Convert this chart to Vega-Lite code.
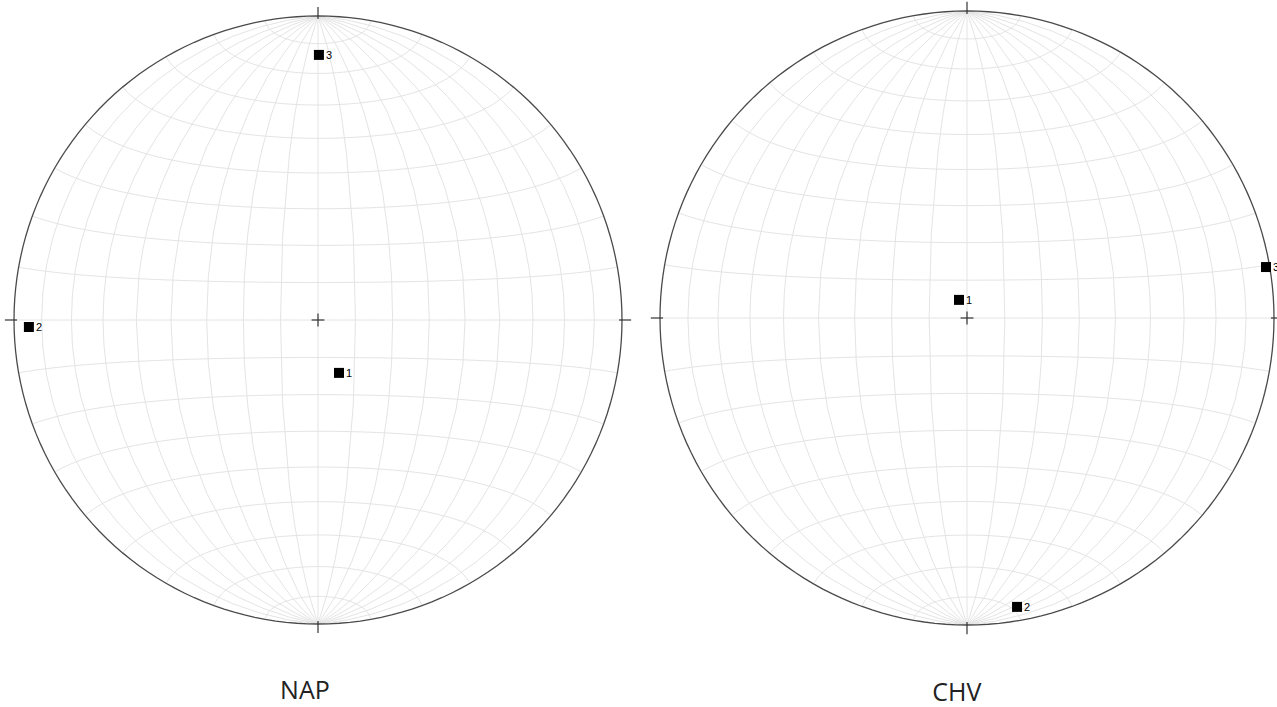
{
  "$schema": "https://vega.github.io/schema/vega-lite/v6.json",
  "padding": 0,
  "spacing": 0,
  "bounds": "flush",
  "config": {"view": {"stroke": null}},
  "datasets": {
    "ticks": [
      {"x": 0, "y": 0.99, "x2": 0, "y2": 1.03},
      {"x": 0, "y": -0.99, "x2": 0, "y2": -1.03},
      {"x": -0.99, "y": 0, "x2": -1.03, "y2": 0},
      {"x": 0.99, "y": 0, "x2": 1.03, "y2": 0},
      {"x": -0.021, "y": 0, "x2": 0.021, "y2": 0},
      {"x": 0, "y": -0.021, "x2": 0, "y2": 0.021}
    ],
    "nap": [
      {"id": "1", "x": 0.069, "y": -0.174},
      {"id": "2", "x": -0.951, "y": -0.023},
      {"id": "3", "x": 0.003, "y": 0.872}
    ],
    "chv": [
      {"id": "1", "x": -0.026, "y": 0.059},
      {"id": "2", "x": 0.163, "y": -0.941},
      {"id": "3", "x": 0.974, "y": 0.166}
    ]
  },
  "hconcat": [
    {
      "width": 640,
      "height": 707,
      "projection": {"type": "azimuthalEqualArea", "clipAngle": 90, "extent": [[14, 16], [622, 624]]},
      "layer": [
        {
          "data": {"graticule": {"step": [10, 10], "extentMinor": [[-180, -90], [180, 90]]}},
          "mark": {"type": "geoshape", "filled": false, "stroke": "#e4e4e4", "strokeWidth": 1}
        },
        {
          "data": {"sphere": true},
          "mark": {"type": "geoshape", "filled": false, "stroke": "#4a4a4a", "strokeWidth": 1.3}
        },
        {
          "data": {"name": "ticks"},
          "mark": {"type": "rule", "color": "#333333", "strokeWidth": 1.2},
          "encoding": {
            "x": {"field": "x", "type": "quantitative", "scale": {"domain": [-1.04605, 1.05921], "nice": false, "zero": false}, "axis": null},
            "y": {"field": "y", "type": "quantitative", "scale": {"domain": [-1.27303, 1.05263], "nice": false, "zero": false}, "axis": null},
            "x2": {"field": "x2"},
            "y2": {"field": "y2"}
          }
        },
        {
          "data": {"name": "nap"},
          "mark": {"type": "point", "shape": "square", "filled": true, "color": "#000000", "size": 100, "opacity": 1, "strokeWidth": 0},
          "encoding": {
            "x": {"field": "x", "type": "quantitative", "scale": {"domain": [-1.04605, 1.05921], "nice": false, "zero": false}, "axis": null},
            "y": {"field": "y", "type": "quantitative", "scale": {"domain": [-1.27303, 1.05263], "nice": false, "zero": false}, "axis": null}
          }
        },
        {
          "data": {"name": "nap"},
          "mark": {"type": "text", "align": "left", "baseline": "middle", "dx": 7, "dy": 1, "fontSize": 11, "font": "Liberation Sans", "color": "#000000"},
          "encoding": {
            "x": {"field": "x", "type": "quantitative", "scale": {"domain": [-1.04605, 1.05921], "nice": false, "zero": false}, "axis": null},
            "y": {"field": "y", "type": "quantitative", "scale": {"domain": [-1.27303, 1.05263], "nice": false, "zero": false}, "axis": null},
            "text": {"field": "id"}
          }
        },
        {
          "data": {"values": [{"label": "NAP", "x": -0.043, "y": -1.22}]},
          "mark": {"type": "text", "align": "center", "baseline": "middle", "fontSize": 25, "font": "Open Sans", "color": "#222222"},
          "encoding": {
            "x": {"field": "x", "type": "quantitative", "scale": {"domain": [-1.04605, 1.05921], "nice": false, "zero": false}, "axis": null},
            "y": {"field": "y", "type": "quantitative", "scale": {"domain": [-1.27303, 1.05263], "nice": false, "zero": false}, "axis": null},
            "text": {"field": "label"}
          }
        }
      ]
    },
    {
      "width": 637,
      "height": 707,
      "projection": {"type": "azimuthalEqualArea", "clipAngle": 90, "extent": [[20, 11], [634, 625]]},
      "layer": [
        {
          "data": {"graticule": {"step": [10, 10], "extentMinor": [[-180, -90], [180, 90]]}},
          "mark": {"type": "geoshape", "filled": false, "stroke": "#e4e4e4", "strokeWidth": 1}
        },
        {
          "data": {"sphere": true},
          "mark": {"type": "geoshape", "filled": false, "stroke": "#4a4a4a", "strokeWidth": 1.3}
        },
        {
          "data": {"name": "ticks"},
          "mark": {"type": "rule", "color": "#333333", "strokeWidth": 1.2},
          "encoding": {
            "x": {"field": "x", "type": "quantitative", "scale": {"domain": [-1.06515, 1.00977], "nice": false, "zero": false}, "axis": null},
            "y": {"field": "y", "type": "quantitative", "scale": {"domain": [-1.2671, 1.03583], "nice": false, "zero": false}, "axis": null},
            "x2": {"field": "x2"},
            "y2": {"field": "y2"}
          }
        },
        {
          "data": {"name": "chv"},
          "mark": {"type": "point", "shape": "square", "filled": true, "color": "#000000", "size": 100, "opacity": 1, "strokeWidth": 0},
          "encoding": {
            "x": {"field": "x", "type": "quantitative", "scale": {"domain": [-1.06515, 1.00977], "nice": false, "zero": false}, "axis": null},
            "y": {"field": "y", "type": "quantitative", "scale": {"domain": [-1.2671, 1.03583], "nice": false, "zero": false}, "axis": null}
          }
        },
        {
          "data": {"name": "chv"},
          "mark": {"type": "text", "align": "left", "baseline": "middle", "dx": 7, "dy": 1, "fontSize": 11, "font": "Liberation Sans", "color": "#000000"},
          "encoding": {
            "x": {"field": "x", "type": "quantitative", "scale": {"domain": [-1.06515, 1.00977], "nice": false, "zero": false}, "axis": null},
            "y": {"field": "y", "type": "quantitative", "scale": {"domain": [-1.2671, 1.03583], "nice": false, "zero": false}, "axis": null},
            "text": {"field": "id"}
          }
        },
        {
          "data": {"values": [{"label": "CHV", "x": -0.033, "y": -1.2215}]},
          "mark": {"type": "text", "align": "center", "baseline": "middle", "fontSize": 25, "font": "Open Sans", "color": "#222222"},
          "encoding": {
            "x": {"field": "x", "type": "quantitative", "scale": {"domain": [-1.06515, 1.00977], "nice": false, "zero": false}, "axis": null},
            "y": {"field": "y", "type": "quantitative", "scale": {"domain": [-1.2671, 1.03583], "nice": false, "zero": false}, "axis": null},
            "text": {"field": "label"}
          }
        }
      ]
    }
  ]
}
